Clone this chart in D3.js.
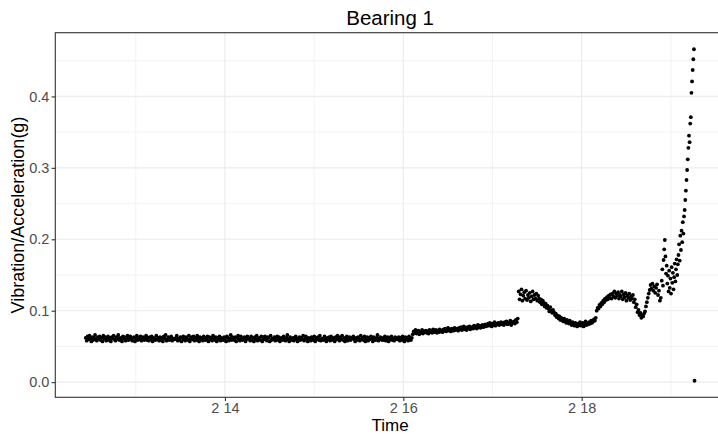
<!DOCTYPE html>
<html lang="en">
<head>
  <meta charset="UTF-8">
  <title>Bearing 1</title>
  <script src="https://d3js.org/d3.v7.min.js"></script>
  <style>
    body {
      margin: 0;
      background: #fff;
      font-family: "Liberation Sans", Arial, sans-serif;
    }
    svg {
      display: block;
    }
  </style>
</head>
<body>
  <svg id="chart" width="718" height="434"></svg>

  <script>
    // sampling: first reading, then one reading every 15 min, the tail every 10 min
    const firstReading = "2004-02-12 10:32:39";
    const mainStepMin = 15;
    const tailStepMin = 10;

    // flat, healthy period (2/12 - 2/16)
    const flatPhase = [
      0.062,0.058,0.064,0.060,0.065,0.061,0.057,0.063,0.059,0.062,0.066,0.060,0.058,0.063,0.061,0.064,
      0.059,0.062,0.057,0.065,0.061,0.063,0.058,0.060,0.064,0.059,0.062,0.057,0.063,0.061,0.065,0.060,
      0.058,0.063,0.061,0.066,0.059,0.062,0.060,0.057,0.064,0.061,0.063,0.058,0.062,0.065,0.059,0.061,
      0.064,0.060,0.058,0.062,0.063,0.057,0.061,0.065,0.059,0.062,0.060,0.064,0.058,0.061,0.063,0.059,
      0.061,0.065,0.059,0.062,0.058,0.063,0.060,0.064,0.057,0.062,0.061,0.059,0.065,0.060,0.062,0.058,
      0.063,0.059,0.062,0.057,0.064,0.061,0.066,0.058,0.060,0.063,0.059,0.062,0.064,0.058,0.061,0.060,
      0.060,0.062,0.065,0.058,0.061,0.059,0.063,0.057,0.062,0.064,0.060,0.058,0.063,0.061,0.059,0.065,
      0.057,0.061,0.063,0.060,0.064,0.058,0.062,0.059,0.065,0.061,0.057,0.063,0.060,0.062,0.058,0.064,
      0.062,0.059,0.061,0.064,0.057,0.063,0.060,0.062,0.058,0.065,0.061,0.059,0.063,0.057,0.062,0.060,
      0.064,0.058,0.062,0.060,0.059,0.063,0.061,0.057,0.064,0.062,0.058,0.061,0.066,0.059,0.063,0.060,
      0.059,0.063,0.057,0.062,0.065,0.060,0.058,0.064,0.061,0.059,0.062,0.063,0.057,0.060,0.064,0.061,
      0.061,0.058,0.064,0.059,0.062,0.057,0.063,0.060,0.065,0.058,0.061,0.062,0.059,0.064,0.057,0.063,
      0.060,0.064,0.061,0.058,0.063,0.062,0.057,0.065,0.059,0.061,0.060,0.063,0.058,0.062,0.064,0.059,
      0.063,0.057,0.060,0.062,0.059,0.064,0.061,0.058,0.062,0.066,0.060,0.057,0.063,0.061,0.059,0.062,
      0.058,0.062,0.064,0.060,0.057,0.061,0.063,0.059,0.062,0.060,0.065,0.058,0.061,0.064,0.060,0.057,
      0.062,0.060,0.058,0.063,0.061,0.059,0.064,0.057,0.060,0.062,0.063,0.059,0.065,0.058,0.061,0.060,
      0.059,0.064,0.061,0.057,0.062,0.060,0.063,0.058,0.064,0.061,0.059,0.062,0.057,0.063,0.060,0.065,
      0.061,0.058,0.063,0.060,0.065,0.059,0.062,0.057,0.061,0.064,0.058,0.060,0.063,0.059,0.062,0.061,
      0.064,0.060,0.057,0.062,0.059,0.063,0.061,0.058,0.065,0.060,0.062,0.059,0.064,0.057,0.061,0.063,
      0.058,0.062,0.060,0.064,0.061,0.057,0.063,0.060,0.059,0.062,0.066,0.058,0.061,0.063,0.060,0.059,
      0.062,0.059,0.064,0.058,0.061,0.063,0.057,0.062,0.060,0.064,0.059,0.061,0.058,0.063,0.062,0.060,
      0.060,0.063,0.058,0.062,0.059,0.064,0.061,0.057,0.063,0.060,0.062,0.058,0.064,0.061,0.059,0.062
    ];

    // slow rise on 2/16 - 2/17
    const risePhase = [
      0.067,0.071,0.069,0.073,0.068,0.070,0.072,0.067,0.070,0.069,0.073,0.068,0.071,0.070,0.072,0.069,
      0.071,0.068,0.073,0.070,0.072,0.069,0.074,0.070,0.071,0.073,0.069,0.072,0.070,0.074,0.071,0.072,
      0.070,0.074,0.072,0.075,0.071,0.073,0.076,0.072,0.074,0.071,0.075,0.073,0.072,0.076,0.073,0.074,
      0.075,0.072,0.076,0.074,0.077,0.073,0.075,0.078,0.074,0.076,0.073,0.077,0.075,0.078,0.074,0.076,
      0.077,0.075,0.079,0.076,0.078,0.075,0.080,0.077,0.079,0.076,0.078,0.080,0.077,0.079,0.081,0.078,
      0.080,0.082,0.079,0.083,0.081,0.078,0.082,0.080,0.084,0.079,0.082,0.081,0.083,0.080,0.082,0.084,
      0.081,0.083,0.080,0.084,0.082,0.085,0.081,0.083,0.082,0.086,0.080,0.084,0.083,0.085,0.082,0.087,
      0.084,0.089
    ];

    // jump on 2/17, then decay
    const jumpPhase = [
      0.127,0.116,0.123,0.130,0.114,0.121,0.126,0.117,0.128,0.115,0.122,0.118,0.125,0.113,0.120,0.127,
      0.116,0.122,0.117,0.124,
      0.114,0.121,0.117,0.112,0.116,0.109,0.114,0.111,0.106,0.110,0.104,0.107,0.103,0.099,0.105,0.100,
      0.097,0.101,0.098,0.094,
      0.096,0.091,0.093,0.089,0.092,0.087,0.090,0.088,0.085,0.089,0.086,0.083,0.087,0.084,0.082,0.086,
      0.083,0.080,0.084,0.081,
      0.079,0.083,0.081,0.078,0.082,0.080,0.084,0.079,0.081,0.083,0.078,0.082,0.085,0.080,0.083,0.081,
      0.084,0.082,0.086,0.083,
      0.085,0.088,0.086,0.090
    ];

    // second rise on 2/18
    const secondPhase = [
      0.100,0.104,0.103,0.108,0.106,0.111,0.109,0.114,0.112,0.117,0.115,0.119,0.116,0.121,0.118,0.123,
      0.117,0.124,0.120,0.127,
      0.118,0.124,0.121,0.126,0.117,0.122,0.120,0.127,0.116,0.123,0.119,0.125,0.114,0.121,0.118,0.124,
      0.115,0.120,0.117,0.122,
      0.112,0.116,0.105,0.109,0.098,0.101,0.094,0.097,0.090,0.093,0.092,0.096,0.099,0.106,0.112,0.118,
      0.124,0.129,0.136,0.131,
      0.138,0.128,0.134,0.125,0.132,0.137,0.122,0.128,0.114,0.118
    ];

    // failure, 10 min readings (2/18 evening - 2/19)
    const tailPhase = [
      0.142,0.158,0.135,0.171,0.186,0.199,0.176,0.152,0.163,0.138,
      0.149,0.127,0.156,0.132,0.145,0.124,0.161,0.139,0.153,0.130,
      0.147,0.166,0.141,0.158,0.172,0.150,0.165,0.178,0.193,0.170,
      0.205,0.185,0.212,0.196,0.224,0.208,0.232,0.241,0.255,0.268,
      0.283,0.297,0.312,0.328,0.345,0.336,0.362,0.371,0.405,0.421,
      0.437,0.452,0.466,0.002
    ];

    const yTicks = [0, 0.1, 0.2, 0.3, 0.4];
    const yMinor = [0.05, 0.15, 0.25, 0.35, 0.45];
    const xTickDays = ["2004-02-14", "2004-02-16", "2004-02-18"];
    const xTickLabels = ["2 14", "2 16", "2 18"];
    const xMinorDays = ["2004-02-13", "2004-02-15", "2004-02-17", "2004-02-19"];

    const parseTime = d3.timeParse("%Y-%m-%d %H:%M:%S");
    const parseDay = d3.timeParse("%Y-%m-%d");

    // build the table of readings
    const data = [];
    let t = parseTime(firstReading);
    [flatPhase, risePhase, jumpPhase, secondPhase].forEach(arr => {
      arr.forEach(v => {
        data.push({ time: t, value: v });
        t = d3.timeMinute.offset(t, mainStepMin);
      });
    });
    tailPhase.forEach(v => {
      data.push({ time: t, value: v });
      t = d3.timeMinute.offset(t, tailStepMin);
    });

    const panel = { left: 55.3, top: 32.7, right: 725, bottom: 397.3 };

    const svg = d3.select("#chart");

    const tExt = d3.extent(data, d => d.time);
    const tPad = (tExt[1] - tExt[0]) * 0.05;
    const x = d3.scaleTime()
      .domain([new Date(+tExt[0] - tPad), new Date(+tExt[1] + tPad)])
      .range([panel.left, panel.right]);

    const vExt = d3.extent(data, d => d.value);
    const vPad = (vExt[1] - vExt[0]) * 0.05;
    const y = d3.scaleLinear()
      .domain([vExt[0] - vPad, vExt[1] + vPad])
      .range([panel.bottom, panel.top]);

    // panel background
    svg.append("rect")
      .attr("x", panel.left).attr("y", panel.top)
      .attr("width", panel.right - panel.left)
      .attr("height", panel.bottom - panel.top)
      .attr("fill", "#fff");

    const grid = svg.append("g");

    grid.selectAll(".ymin").data(yMinor).enter().append("line")
      .attr("x1", panel.left).attr("x2", panel.right)
      .attr("y1", d => y(d)).attr("y2", d => y(d))
      .attr("stroke", "#EBEBEB").attr("stroke-width", 0.6);

    grid.selectAll(".xmin").data(xMinorDays).enter().append("line")
      .attr("x1", d => x(parseDay(d))).attr("x2", d => x(parseDay(d)))
      .attr("y1", panel.top).attr("y2", panel.bottom)
      .attr("stroke", "#EBEBEB").attr("stroke-width", 0.6);

    grid.selectAll(".ymaj").data(yTicks).enter().append("line")
      .attr("x1", panel.left).attr("x2", panel.right)
      .attr("y1", d => y(d)).attr("y2", d => y(d))
      .attr("stroke", "#EBEBEB").attr("stroke-width", 1.1);

    grid.selectAll(".xmaj").data(xTickDays).enter().append("line")
      .attr("x1", d => x(parseDay(d))).attr("x2", d => x(parseDay(d)))
      .attr("y1", panel.top).attr("y2", panel.bottom)
      .attr("stroke", "#EBEBEB").attr("stroke-width", 1.1);

    // points
    svg.append("g")
      .selectAll("circle")
      .data(data)
      .enter().append("circle")
      .attr("cx", d => x(d.time))
      .attr("cy", d => y(d.value))
      .attr("r", 1.9)
      .attr("fill", "#000");

    // panel border
    svg.append("rect")
      .attr("x", panel.left).attr("y", panel.top)
      .attr("width", panel.right - panel.left)
      .attr("height", panel.bottom - panel.top)
      .attr("fill", "none")
      .attr("stroke", "#333")
      .attr("stroke-width", 1.1);

    // axes
    const yAxis = svg.append("g")
      .attr("transform", `translate(${panel.left},0)`)
      .call(d3.axisLeft(y).tickValues(yTicks).tickFormat(d3.format(".1f"))
        .tickSize(3.7).tickPadding(2.3));

    const xAxis = svg.append("g")
      .attr("transform", `translate(0,${panel.bottom})`)
      .call(d3.axisBottom(x).tickValues(xTickDays.map(parseDay))
        .tickFormat((d, i) => xTickLabels[i])
        .tickSize(3.7).tickPadding(1.8));

    [yAxis, xAxis].forEach(a => {
      a.select(".domain").remove();
      a.selectAll(".tick line").attr("stroke", "#333").attr("stroke-width", 1.1);
      a.selectAll(".tick text")
        .attr("fill", "#4D4D4D")
        .style("font-family", "'Liberation Sans', Arial, sans-serif")
        .style("font-size", "14.5px");
    });

    // titles
    svg.append("text")
      .attr("x", (panel.left + panel.right) / 2)
      .attr("y", 25)
      .attr("text-anchor", "middle")
      .style("font-size", "20.5px")
      .text("Bearing 1");

    svg.append("text")
      .attr("x", (panel.left + panel.right) / 2)
      .attr("y", 430.5)
      .attr("text-anchor", "middle")
      .style("font-size", "17px")
      .text("Time");

    svg.append("text")
      .attr("transform", `translate(24,${(panel.top + panel.bottom) / 2}) rotate(-90)`)
      .attr("text-anchor", "middle")
      .style("font-size", "18px")
      .text("Vibration/Acceleration(g)");
  </script>
</body>
</html>
